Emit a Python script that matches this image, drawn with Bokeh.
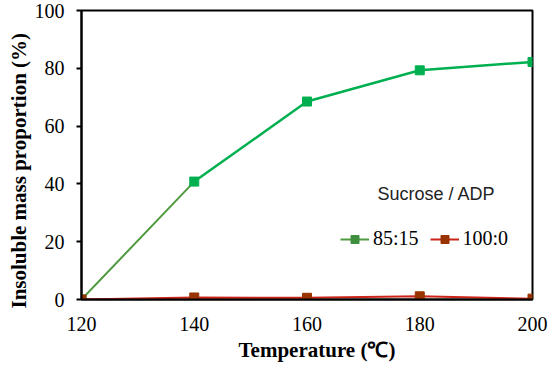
from bokeh.plotting import figure
from bokeh.models import Range1d, Legend, LegendItem, Label, FixedTicker, Title
from bokeh.embed import file_html
from bokeh.resources import INLINE

temperature = [120, 140, 160, 180, 200]
ratio_85_15 = [0.0, 40.8, 68.5, 79.3, 82.2]
ratio_100_0 = [0.0, 0.7, 0.6, 1.1, 0.3]
x_ticks = [120, 140, 160, 180, 200]
y_ticks = [0, 20, 40, 60, 80, 100]
series_labels = ["85:15", "100:0"]
legend_title = "Sucrose / ADP"
x_title = "Temperature (\u2103)"
y_title = "Insoluble mass proportion (%)"

SERIF = "'Liberation Serif', 'Times New Roman', serif"

p = figure(width=550, height=367, output_backend="svg", toolbar_location=None,
           x_range=Range1d(120, 200), y_range=Range1d(0, 100),
           min_border_left=81, min_border_right=18, min_border_top=10, min_border_bottom=68)

p.xgrid.visible = False
p.ygrid.visible = False
p.outline_line_color = "black"
p.outline_line_width = 2
p.background_fill_color = "white"
p.border_fill_color = "white"

for ax in (p.xaxis[0], p.yaxis[0]):
    ax.axis_line_color = "black"
    ax.axis_line_width = 2
    ax.major_tick_line_color = "black"
    ax.major_tick_line_width = 2
    ax.minor_tick_line_color = None
    ax.major_label_text_font = SERIF
    ax.major_label_text_font_style = "normal"
    ax.major_label_text_font_size = "20px"
    ax.major_label_text_color = "black"

p.xaxis.ticker = FixedTicker(ticks=x_ticks)
p.yaxis.ticker = FixedTicker(ticks=y_ticks)
p.xaxis.major_tick_in = 0
p.xaxis.major_tick_out = 0
p.xaxis.major_label_standoff = 17
p.yaxis.major_tick_in = 0
p.yaxis.major_tick_out = 5
p.yaxis.major_label_standoff = 12

# y title as the axis label; trailing no-break spaces push it down toward where the reference has it
p.yaxis.axis_label = y_title + "\u00a0" * 6
p.yaxis.axis_label_standoff = 1
p.yaxis.axis_label_text_font = SERIF
p.yaxis.axis_label_text_font_size = "21px"
p.yaxis.axis_label_text_font_style = "bold"
p.yaxis.axis_label_text_color = "black"

# 85:15 series
seg_olive = p.line(temperature[:2], ratio_85_15[:2], line_color="#4f9a3f", line_width=2)
first_olive = p.scatter(temperature[:1], ratio_85_15[:1], marker="square", size=9, color="#3f8f3f")
p.line(temperature[1:], ratio_85_15[1:], line_color="#00b050", line_width=2.5)
p.scatter(temperature[1:], ratio_85_15[1:], marker="square", size=9, color="#00b050")

# 100:0 series
red_line = p.line(temperature, ratio_100_0, line_color="#cc2418", line_width=2)
red_mark = p.scatter(temperature, ratio_100_0, marker="square", size=9, color="#993300")

legend = Legend(items=[LegendItem(label=series_labels[0], renderers=[seg_olive, first_olive]),
                       LegendItem(label=series_labels[1], renderers=[red_line, red_mark])],
                orientation="horizontal", location=(259, 49), padding=0, margin=0,
                border_line_alpha=0, background_fill_alpha=0,
                glyph_width=29, glyph_height=20, label_height=20, label_standoff=4, spacing=11,
                label_text_font=SERIF, label_text_font_style="normal", label_text_font_size="20px",
                label_text_color="black")
p.add_layout(legend)

p.add_layout(Label(x=355, y=106, x_units="screen", y_units="screen", text=legend_title,
                   text_font="Liberation Sans", text_font_size="18px", text_color="#222222",
                   text_align="center", text_baseline="middle"))

p.add_layout(Title(text=x_title, align="left", offset=157, standoff=7, vertical_align="middle",
                   text_font=SERIF, text_font_size="21px", text_font_style="bold",
                   text_color="black"), "below")

open("out.html", "w").write(file_html(p, INLINE))
